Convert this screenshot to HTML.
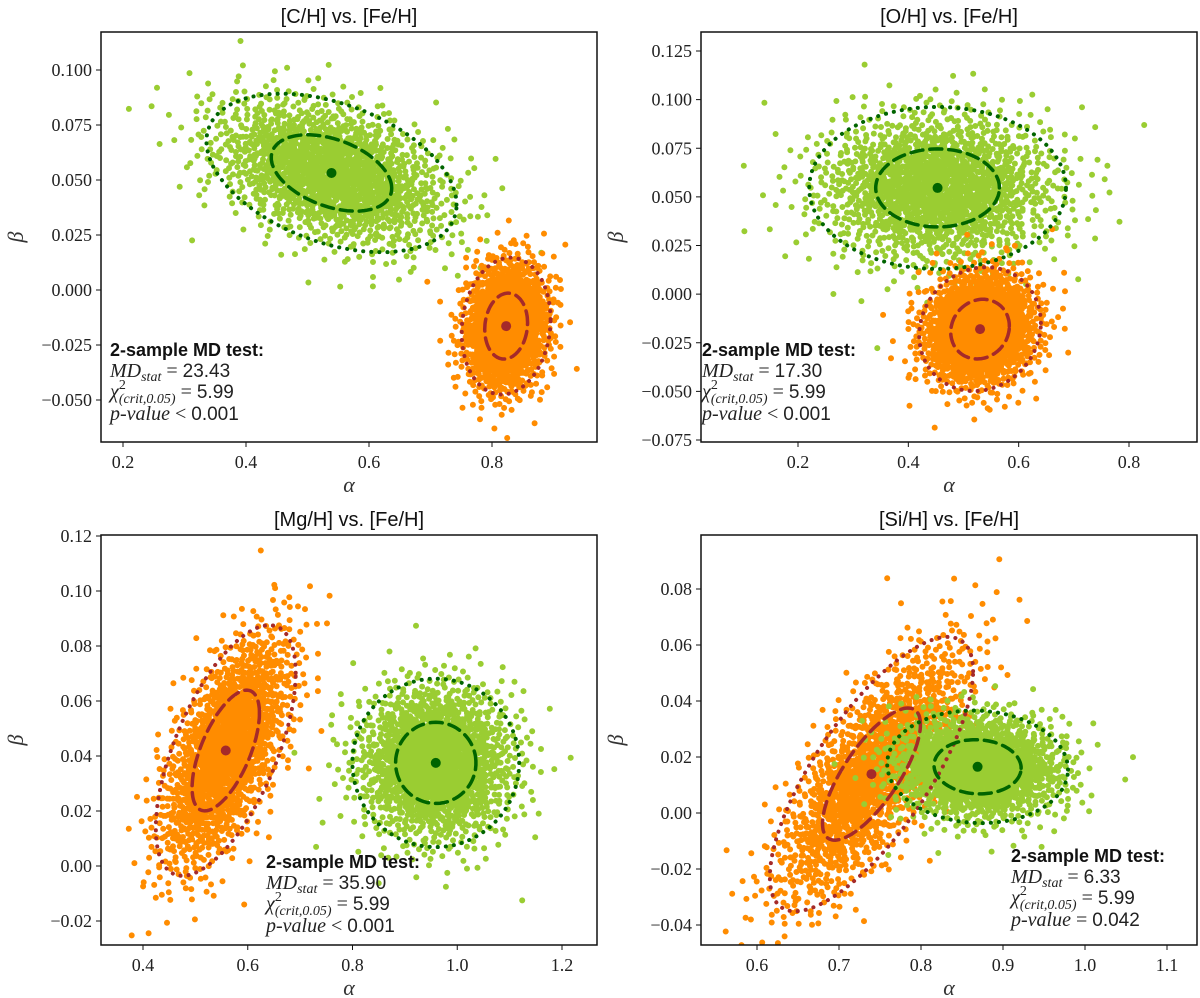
<!DOCTYPE html>
<html><head><meta charset="utf-8">
<style>
html,body{margin:0;padding:0;background:#fff;}
svg{display:block;}
.tick{font-family:"Liberation Serif",serif;font-size:18px;fill:#222;}
.title{font-family:"Liberation Sans",sans-serif;font-size:20px;fill:#111;}
.ax{font-family:"Liberation Serif",serif;font-style:italic;font-size:22px;fill:#333;}
.bt{font-family:"Liberation Sans",sans-serif;font-weight:bold;font-size:18px;fill:#111;}
.mt{font-family:"Liberation Serif",serif;font-size:20px;fill:#222;}
.mt .i{font-style:italic;}
.mt .s{font-size:14px;}
.mt .n{font-family:"Liberation Sans",sans-serif;font-size:19px;}
</style></head>
<body>
<svg id="fig" width="1200" height="998" viewBox="0 0 1200 998" xmlns="http://www.w3.org/2000/svg"></svg>
<script>
// ---- data ----
const panelTitles = ["[C/H] vs. [Fe/H]", "[O/H] vs. [Fe/H]", "[Mg/H] vs. [Fe/H]", "[Si/H] vs. [Fe/H]"];
const xTicks1 = [0.2, 0.4, 0.6, 0.8];
const yTicks1 = [0.100, 0.075, 0.050, 0.025, 0.000, -0.025, -0.050];
const xTicks2 = [0.2, 0.4, 0.6, 0.8];
const yTicks2 = [0.125, 0.100, 0.075, 0.050, 0.025, 0.000, -0.025, -0.050, -0.075];
const xTicks3 = [0.4, 0.6, 0.8, 1.0, 1.2];
const yTicks3 = [0.12, 0.10, 0.08, 0.06, 0.04, 0.02, 0.00, -0.02];
const xTicks4 = [0.6, 0.7, 0.8, 0.9, 1.0, 1.1];
const yTicks4 = [0.08, 0.06, 0.04, 0.02, 0.00, -0.02, -0.04];
// cloud parameters: [meanX, meanY, sdX, sdY, rho]
const green1 = [0.539, 0.0532, 0.083, 0.0147, -0.40];
const orange1 = [0.823, -0.0164, 0.0295, 0.0127, 0.10];
const green2 = [0.453, 0.0546, 0.095, 0.0170, 0.0];
const orange2 = [0.530, -0.0180, 0.045, 0.0130, 0.10];
const orange3 = [0.558, 0.0420, 0.0545, 0.0186, 0.62];
const green3 = [0.959, 0.0375, 0.065, 0.0125, 0.0];
const orange4 = [0.7396, 0.0139, 0.0506, 0.0200, 0.75];
const green4 = [0.869, 0.0165, 0.045, 0.0082, -0.05];
const mdStat = ["23.43", "17.30", "35.90", "6.33"];
const chiCrit = ["5.99", "5.99", "5.99", "5.99"];
const pValue = ["< 0.001", "< 0.001", "< 0.001", "= 0.042"];

const NS = "http://www.w3.org/2000/svg";
const svg = document.getElementById('fig');
function mk(tag, attrs, parent) {
  const e = document.createElementNS(NS, tag);
  for (const k in attrs) e.setAttribute(k, attrs[k]);
  (parent || svg).appendChild(e);
  return e;
}
function linScale(v1, p1, v2, p2) { return v => p1 + (v - v1) * (p2 - p1) / (v2 - v1); }
function halton(i, b) { let f = 1, r = 0; while (i > 0) { f /= b; r += f * (i % b); i = Math.floor(i / b); } return r; }

const panels = [
  {box:[101,32,597,442], sx:linScale(0.2,123,0.8,492), sy:linScale(0.1,70,-0.05,400), xt:xTicks1, yt:yTicks1, dec:3,
   clouds:[[green1,'g'],[orange1,'o']], text:[110,356]},
  {box:[701,32,1197,442], sx:linScale(0.2,798,0.8,1129), sy:linScale(0.125,51,-0.075,440), xt:xTicks2, yt:yTicks2, dec:3,
   clouds:[[green2,'g'],[orange2,'o']], text:[702,356]},
  {box:[101,535,597,945], sx:linScale(0.4,143,1.2,562), sy:linScale(0.12,536,-0.02,921), xt:xTicks3, yt:yTicks3, dec:2,
   clouds:[[orange3,'o'],[green3,'g']], text:[266,868]},
  {box:[701,535,1197,945], sx:linScale(0.6,757,1.1,1167), sy:linScale(0.08,589,-0.04,925), xt:xTicks4, yt:yTicks4, dec:2,
   clouds:[[orange4,'o'],[green4,'g']], text:[1011,862]}
];
const ptColor = {g:'#9acd32', o:'#ff8c00'};
const lnColor = {g:'#006400', o:'#a52a2a'};
const N = 1600;
const SPREAD = 1.13;

function fmt(v, dec) { const s = Math.abs(v).toFixed(dec); return (v < 0 ? '\u2212' : '') + s; }

panels.forEach((p, pi) => {
  const [x0,y0,x1,y1] = p.box;
  const g = mk('g', {});
  
  
  const cp = mk('clipPath', {id:'clip'+pi}, g);
  mk('rect', {x:x0, y:y0, width:x1-x0, height:y1-y0}, cp);
  const t = mk('text', {x:(x0+x1)/2, y:y0-9, 'text-anchor':'middle', class:'title'}, g);
  t.textContent = panelTitles[pi];
  
  
  const plot = mk('g', {'clip-path':'url(#clip'+pi+')'}, g);
  p.clouds.forEach(([c, k], ci) => {
    const cg = mk('g', {fill:ptColor[k]}, plot);
    
    
    const [mx,my,sdx,sdy,rho] = c;
    const off = pi*7919 + ci*3571 + 1;
    let d = '';
    for (let i = 0; i < N; i++) {
      const u1 = Math.max(halton(i+off,2), 1e-6), u2 = halton(i+off,3);
      const r = Math.sqrt(-2*Math.log(u1)) * SPREAD;
      const z1 = r*Math.cos(2*Math.PI*u2), z2 = r*Math.sin(2*Math.PI*u2);
      const vx = mx + sdx*z1, vy = my + sdy*(rho*z1 + Math.sqrt(1-rho*rho)*z2);
      const px = p.sx(vx), py = p.sy(vy);
      d += 'M' + (px-3).toFixed(1) + ' ' + py.toFixed(1) + 'a3 3 0 1 0 6 0a3 3 0 1 0 -6 0';
    }
    const path = mk('path', {d:d}, cg);
    
    
  });
  p.clouds.forEach(([c, k]) => {
    const [mx,my,sdx,sdy,rho] = c;
    [[1.18,'12 7',3.5],[2.45,'0.1 8',4]].forEach(([rr,dash,w]) => {
      let d = '';
      for (let j = 0; j <= 120; j++) {
        const a = 2*Math.PI*j/120;
        const z1 = rr*Math.cos(a), z2 = rr*Math.sin(a);
        const px = p.sx(mx + sdx*z1), py = p.sy(my + sdy*(rho*z1 + Math.sqrt(1-rho*rho)*z2));
        d += (j?'L':'M') + px.toFixed(1) + ' ' + py.toFixed(1);
      }
      const e = mk('path', {d:d, fill:'none', stroke:lnColor[k], 'stroke-width':w, 'stroke-dasharray':dash, 'stroke-linecap':'round'}, plot);
      
      
    });
    const cdot = mk('circle', {cx:p.sx(mx), cy:p.sy(my), r:5, fill:lnColor[k]}, plot);
    
    
  });
  const fr = mk('rect', {x:x0, y:y0, width:x1-x0, height:y1-y0, fill:'none', stroke:'#111', 'stroke-width':1.5}, g);
  
  
  p.xt.forEach(v => {
    const px = p.sx(v);
    mk('line', {x1:px, x2:px, y1:y1, y2:y1+5, stroke:'#111', 'stroke-width':1}, g);
    const tl = mk('text', {x:px, y:y1+26, 'text-anchor':'middle', class:'tick'}, g);
    tl.textContent = v.toFixed(1);
    
    
  });
  p.yt.forEach(v => {
    const py = p.sy(v);
    mk('line', {x1:x0-5, x2:x0, y1:py, y2:py, stroke:'#111', 'stroke-width':1}, g);
    const tl = mk('text', {x:x0-9, y:py+6, 'text-anchor':'end', class:'tick'}, g);
    tl.textContent = fmt(v, p.dec);
    
    
  });
  const xl = mk('text', {x:(x0+x1)/2, y:y1+50, 'text-anchor':'middle', class:'ax'}, g);
  xl.textContent = '\u03b1';
  
  
  const yl = mk('text', {x:0, y:0, 'text-anchor':'middle', class:'ax', transform:'translate(' + (x0-78) + ',' + ((y0+y1)/2) + ') rotate(-90)'}, g);
  yl.textContent = '\u03b2';
  
  
  const [tx, ty] = p.text;
  const tg = mk('g', {}, g);
  
  
  const l1 = mk('text', {x:tx, y:ty, class:'bt'}, tg);
  l1.textContent = '2-sample MD test:';
  const l2 = mk('text', {x:tx, y:ty+21, class:'mt'}, tg);
  l2.innerHTML = '<tspan class="i">MD</tspan><tspan class="s i" dy="4">stat</tspan><tspan dy="-4"> = </tspan><tspan class="n">' + mdStat[pi] + '</tspan>';
  const l3 = mk('text', {x:tx, y:ty+42, class:'mt'}, tg);
  l3.innerHTML = '<tspan class="i">\u03c7</tspan><tspan class="s" dy="-9">2</tspan><tspan class="s i" dx="-7" dy="14">(crit,0.05)</tspan><tspan dy="-5"> = </tspan><tspan class="n">' + chiCrit[pi] + '</tspan>';
  const l4 = mk('text', {x:tx, y:ty+64, class:'mt'}, tg);
  l4.innerHTML = '<tspan class="i">p-value</tspan> ' + pValue[pi].replace(/(\d[\d.]*)/, '<tspan class="n">$1</tspan>');
});
</script>
</body></html>
